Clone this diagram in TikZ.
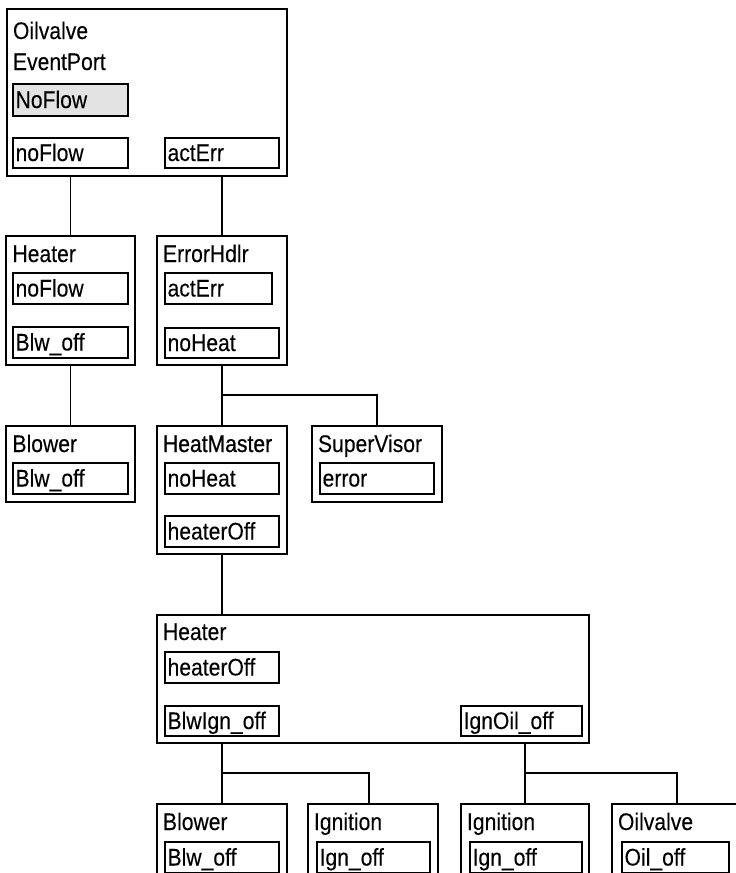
\documentclass[tikz,border=0pt]{standalone}
\usepackage{fontspec}
\setmainfont{Liberation Sans}[FakeStretch=0.88,FakeBold=0.15]
\newfontfamily\hmfont{Liberation Sans}[FakeStretch=0.88,FakeBold=0.7]
\begin{document}
\begin{tikzpicture}[x=1pt,y=-1pt,
  font=\fontsize{24}{28}\selectfont,
  line width=1.1pt,
  obox/.style={draw, anchor=north west, inner sep=0, outer sep=0},
  ibox/.style={draw, anchor=north west, inner xsep=2.6pt, inner ysep=0, outer sep=0,
     minimum height=31pt, text height=18pt, text depth=2pt, align=left},
  ttl/.style={anchor=base west, inner sep=0, outer sep=0}]
\useasboundingbox (0,0) rectangle (736,873);
\clip (0,0) rectangle (736,873);
\fill[white] (0,0) rectangle (736,873);

% Top: Oilvalve EventPort
\node[obox, minimum width=280pt, minimum height=167pt] (T) at (7,9) {};
\node[ttl] (Tt1) at (13,39) {Oilvalve};
\node[ttl] (Tt2) at (13,70) {EventPort};
\node[ibox, text width=109.8pt, minimum height=32pt, fill=black!11] (Tnf) at (13,84) {NoFlow};
\node[ibox, text width=109.8pt, minimum height=30pt] (Tno) at (13,138) {noFlow};
\node[ibox, text width=108.8pt, minimum height=30pt] (Tae) at (165,138) {actErr};

% Heater (left)
\node[obox, minimum width=129pt, minimum height=129pt] (H1) at (6,236) {};
\node[ttl] (H1t) at (12.5,262) {Heater};
\node[ibox, text width=109.8pt] (H1a) at (13,273) {noFlow};
\node[ibox, text width=109.8pt] (H1b) at (13,327) {Blw\_off};

% ErrorHdlr
\node[obox, minimum width=130pt, minimum height=129pt] (E) at (157,236) {};
\node[ttl] (Et) at (163,262) {ErrorHdlr};
\node[ibox, text width=101.8pt] (Ea) at (165,273) {actErr};
\node[ibox, text width=108.8pt, minimum height=30pt] (Eb) at (165,328) {noHeat};

% Blower (left)
\node[obox, minimum width=129pt, minimum height=76pt] (B1) at (6,426) {};
\node[ttl] (B1t) at (12.5,452) {Blower};
\node[ibox, text width=109.8pt] (B1a) at (13,463) {Blw\_off};

% HeatMaster
\node[obox, minimum width=130pt, minimum height=128pt] (HM) at (157,426) {};
\node[ttl] (HMt) at (163,452) {\hmfont HeatMaster};
\node[ibox, text width=108.8pt] (HMa) at (165,463) {noHeat};
\node[ibox, text width=108.8pt] (HMb) at (165,516) {heaterOff};

% SuperVisor
\node[obox, minimum width=130pt, minimum height=76pt] (SV) at (312,426) {};
\node[ttl] (SVt) at (318,452) {SuperVisor};
\node[ibox, text width=108.8pt] (SVa) at (320,463) {error};

% Heater (big)
\node[obox, minimum width=432pt, minimum height=128pt] (BH) at (157,615) {};
\node[ttl] (BHt) at (163,640) {Heater};
\node[ibox, text width=108.8pt] (BHa) at (165,652) {heaterOff};
\node[ibox, text width=108.8pt, minimum height=30pt] (BHb) at (165,706) {BlwIgn\_off};
\node[ibox, text width=115.8pt, minimum height=30pt] (BHc) at (461,706) {IgnOil\_off};

% Bottom row
\node[obox, minimum width=130pt, minimum height=120pt] (BW) at (157,804) {};
\node[ttl] (BWt) at (163,830) {Blower};
\node[ibox, text width=108.8pt] (BWa) at (165,842) {Blw\_off};

\node[obox, minimum width=130pt, minimum height=120pt] (IG1) at (308,804) {};
\node[ttl] (IG1t) at (314,830) {Ignition};
\node[ibox, text width=107.8pt] (IG1a) at (317,842) {Ign\_off};

\node[obox, minimum width=128pt, minimum height=120pt] (IG2) at (461,804) {};
\node[ttl] (IG2t) at (467,830) {Ignition};
\node[ibox, text width=106.8pt] (IG2a) at (470,842) {Ign\_off};

\node[obox, minimum width=130pt, minimum height=120pt] (OV) at (612,804) {};
\node[ttl] (OVt) at (618,830) {Oilvalve};
\node[ibox, text width=101.8pt] (OVa) at (622,842) {Oil\_off};

% Connectors
\draw (T.south -| H1.north) -- (H1.north);
\draw (T.south -| E.north) -- (E.north);
\draw (H1.south) -- (B1.north);
\draw (E.south) -- (HM.north);
\coordinate (J1) at (222,395);
\draw (J1) -| (SV.north);
\draw (HM.south) -- (HM.south |- BH.north);
\draw (BH.south -| BW.north) -- (BW.north);
\coordinate (J2) at (222,773);
\coordinate (IG1in) at (369,804);
\draw (J2) -| (IG1in);
\draw (BH.south -| IG2.north) -- (IG2.north);
\coordinate (J3) at (525,773);
\draw (J3) -| (OV.north);
\end{tikzpicture}
\end{document}
